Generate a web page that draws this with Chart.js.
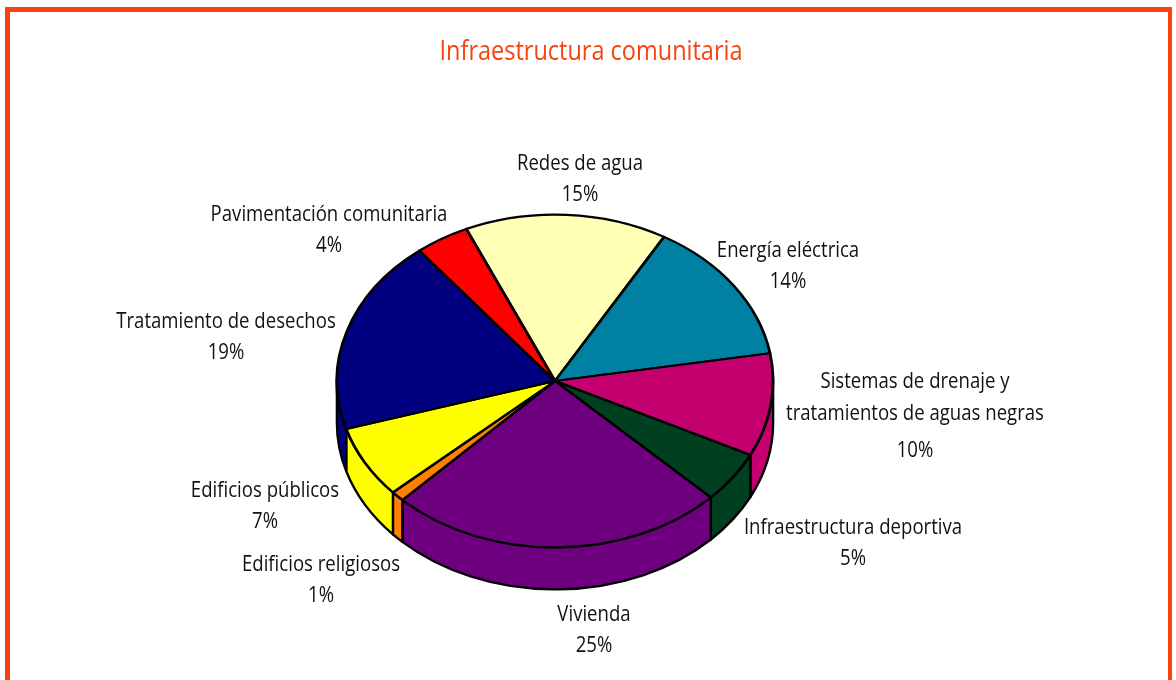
<!DOCTYPE html>
<html lang="es">
<head>
<meta charset="utf-8">
<title>Infraestructura comunitaria</title>
<script src="https://cdn.jsdelivr.net/npm/chart.js@4"></script>
<style>
html,body{margin:0;padding:0;background:#fff;overflow:hidden;width:1176px;height:680px}
#frame{position:absolute;left:5px;top:7px;right:4px;height:720px;border:solid #F9420F;border-width:5px 0 0 5px;border-right:4px solid #F9420F;box-sizing:border-box}
#c{position:absolute;left:0;top:0}
</style>
</head>
<body>
<div id="frame"></div>
<canvas id="c" width="1176" height="680"></canvas>
<script>
const chartTitle = 'Infraestructura comunitaria';
const categories = [
  ['Redes de agua'],
  ['Energía eléctrica'],
  ['Sistemas de drenaje y', 'tratamientos de aguas negras'],
  ['Infraestructura deportiva'],
  ['Vivienda'],
  ['Edificios religiosos'],
  ['Edificios públicos'],
  ['Tratamiento de desechos'],
  ['Pavimentación comunitaria']
];
const values = [15, 14, 10, 5, 25, 1, 7, 19, 4];
const sliceColors = ['#FFFFB5', '#0081A3', '#C4006E', '#004020', '#6E0080', '#FF8000', '#FFFF00', '#000080', '#FF0000'];

// layout only: [centre x, y of each text line]
const labelLayout = [
  [580, [164, 195]],
  [788, [251, 282]],
  [915, [382, 414, 451]],
  [853, [528, 559]],
  [594, [615, 646]],
  [321, [565, 596]],
  [265, [491, 522]],
  [226, [322, 353]],
  [329, [215, 246]]
];
const tilt = 0.763;
const depth = 42;
const labelFont = '21px "Open Sans"';
const titleFont = '27px "Open Sans"';
const labelSqueeze = 0.885;
const titleSqueeze = 0.87;

function squeezedText(ctx, text, x, y, squeeze) {
  ctx.save();
  ctx.translate(x, y);
  ctx.scale(squeeze, 1);
  ctx.fillText(text, 0, 0);
  ctx.restore();
}

const tiltPlugin = {
  id: 'tilt3d',
  beforeDatasetsDraw(chart) {
    const ctx = chart.ctx;
    const arcs = chart.getDatasetMeta(0).data;
    const first = arcs[0];
    const cx = first.x, cy = first.y;
    ctx.save();
    // walls of the lower half, from the arcs the library computed
    arcs.forEach((arc, i) => {
      const a = Math.max(arc.startAngle, 0);
      const b = Math.min(arc.endAngle, Math.PI);
      if (b <= a) return;
      const rx = arc.outerRadius, ry = rx * tilt;
      ctx.beginPath();
      ctx.ellipse(cx, cy, rx, ry, 0, a, b);
      ctx.ellipse(cx, cy + depth, rx, ry, 0, b, a, true);
      ctx.closePath();
      ctx.fillStyle = sliceColors[i];
      ctx.fill();
      ctx.lineWidth = 2.4;
      ctx.strokeStyle = '#000';
      ctx.lineJoin = 'round';
      ctx.stroke();
    });
    ctx.translate(cx, cy);
    ctx.scale(1, tilt);
    ctx.translate(-cx, -cy);
  },
  afterDatasetsDraw(chart) {
    chart.ctx.restore();
  },
  afterDraw(chart) {
    const ctx = chart.ctx;
    ctx.save();
    ctx.textAlign = 'center';
    ctx.textBaseline = 'middle';
    ctx.font = titleFont;
    ctx.fillStyle = '#F9420F';
    squeezedText(ctx, chartTitle, 591, 52, titleSqueeze);
    ctx.font = labelFont;
    ctx.fillStyle = '#111';
    categories.forEach((lines, i) => {
      const [x, ys] = labelLayout[i];
      const texts = lines.concat(values[i] + '%');
      texts.forEach((t, j) => squeezedText(ctx, t, x, ys[j], labelSqueeze));
    });
    ctx.restore();
  }
};

new Chart(document.getElementById('c'), {
  type: 'pie',
  data: {
    labels: categories.map(l => l.join(' ')),
    datasets: [{
      data: values,
      backgroundColor: sliceColors,
      borderColor: '#000',
      borderWidth: 2.8,
      borderJoinStyle: 'round',
      clip: false
    }]
  },
  options: {
    responsive: false,
    animation: false,
    rotation: -24,
    layout: { padding: { left: 0, right: 66, top: 161.5, bottom: 79.5 } },
    plugins: {
      legend: { display: false },
      tooltip: { enabled: false },
      title: { display: false, text: chartTitle }
    }
  },
  plugins: [tiltPlugin]
});
</script>
</body>
</html>
